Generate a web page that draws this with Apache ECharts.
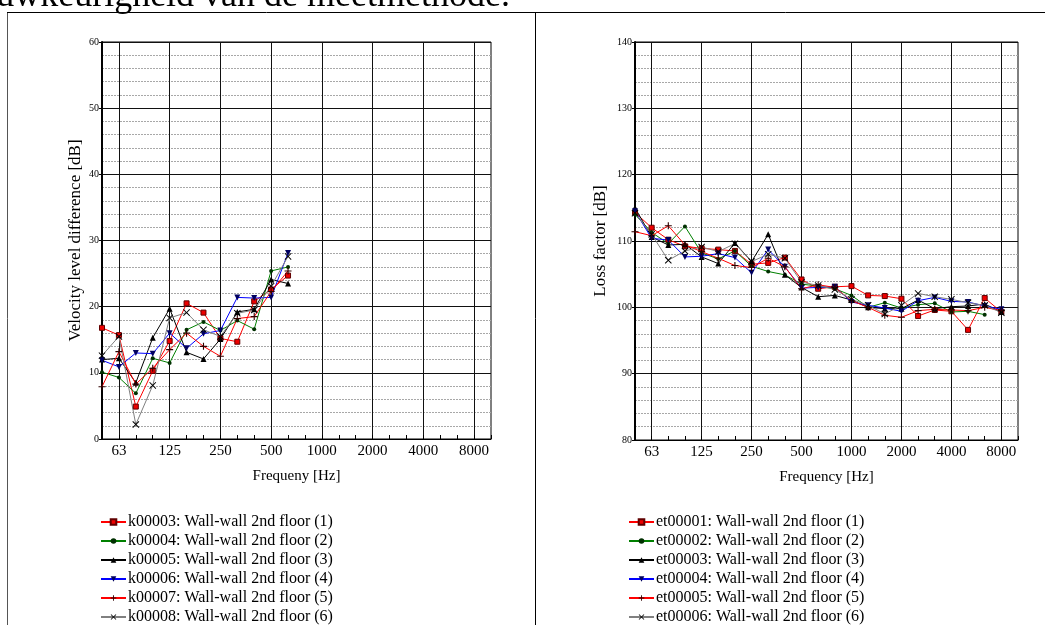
<!DOCTYPE html>
<html>
<head>
<meta charset="utf-8">
<script src="https://cdn.jsdelivr.net/npm/echarts@6/dist/echarts.min.js"></script>
<style>
html,body{margin:0;padding:0;background:#fff;}
#c{width:1045px;height:625px;}
</style>
</head>
<body>
<div id="c"></div>
<script>
// 1/3-octave band centre frequencies (Hz)
const bands = ['50','63','80','100','125','160','200','250','315','400','500','630','800','1000','1250','1600','2000','2500','3150','4000','5000','6300','8000','10000'];
const octaveLabels = ['63','125','250','500','1000','2000','4000','8000'];

// Left: velocity level difference [dB], 50..630 Hz
const leftNames = ['k00003: Wall-wall 2nd floor (1)','k00004: Wall-wall 2nd floor (2)','k00005: Wall-wall 2nd floor (3)','k00006: Wall-wall 2nd floor (4)','k00007: Wall-wall 2nd floor (5)','k00008: Wall-wall 2nd floor (6)'];
const k00003 = [16.8, 15.7, 4.9, 10.3, 14.8, 20.5, 19.1, 15.2, 14.7, 20.8, 22.6, 24.7];
const k00004 = [10.1, 9.3, 6.9, 12.2, 11.5, 16.5, 17.7, 16.4, 17.9, 16.6, 25.4, 26.0];
const k00005 = [12.0, 12.2, 8.5, 15.3, 19.7, 13.1, 12.1, 15.1, 19.2, 19.6, 24.1, 23.5];
const k00006 = [11.9, 10.9, 13.0, 12.9, 16.0, 13.7, 15.9, 16.4, 21.4, 21.3, 21.4, 28.1];
const k00007 = [7.9, 13.2, 8.3, 10.7, 13.5, 16.0, 14.0, 12.5, 18.2, 18.5, 22.3, 25.4];
const k00008 = [12.6, 15.5, 2.2, 8.1, 18.3, 19.1, 16.5, 15.5, 19.0, 19.5, 23.1, 27.6];

// Right: loss factor [dB], 50..8000 Hz
const rightNames = ['et00001: Wall-wall 2nd floor (1)','et00002: Wall-wall 2nd floor (2)','et00003: Wall-wall 2nd floor (3)','et00004: Wall-wall 2nd floor (4)','et00005: Wall-wall 2nd floor (5)','et00006: Wall-wall 2nd floor (6)'];
const et00001 = [114.3, 112.0, 110.2, 109.2, 108.9, 108.7, 108.5, 106.5, 106.7, 107.5, 104.2, 102.8, 103.1, 103.2, 101.8, 101.7, 101.3, 98.7, 99.6, 99.4, 96.6, 101.4, 99.3];
const et00002 = [114.0, 111.3, 109.6, 112.2, 108.2, 107.3, 108.5, 106.2, 105.4, 104.9, 103.5, 103.2, 102.8, 101.8, 100.0, 100.7, 99.9, 100.4, 100.6, 99.3, 99.4, 98.9];
const et00003 = [115.0, 110.6, 109.4, 109.5, 107.6, 106.6, 109.7, 106.9, 111.0, 104.9, 103.0, 101.6, 101.8, 101.1, 100.0, 99.8, 99.8, 101.1, 99.8, 100.1, 100.2, 100.5, 99.3];
const et00004 = [114.5, 110.4, 110.15, 107.6, 107.7, 108.1, 107.5, 105.2, 108.7, 106.1, 102.9, 103.0, 103.1, 100.8, 100.3, 99.9, 99.4, 101.0, 101.5, 100.9, 100.8, 100.2, 99.7];
const et00005 = [111.4, 110.8, 112.3, 109.4, 108.4, 107.4, 106.3, 106.0, 107.4, 106.1, 102.8, 103.4, 103.0, 101.0, 100.0, 98.8, 98.5, 99.5, 99.7, 99.6, 99.5, 100.0, 99.5];
const et00006 = [114.2, 111.0, 107.1, 108.5, 109.1, 108.4, 109.6, 106.9, 108.0, 107.4, 103.8, 103.3, 102.7, 101.2, 100.3, 99.0, 100.3, 102.1, 101.6, 101.2, 100.7, 100.3, 99.2];

const FONT = "'Liberation Serif','Times New Roman',serif";
const SQ = 'rect';
const DOT = 'circle';
const UP = 'triangle';
const DOWN = 'path://M0,0L10,0L5,10Z';
const PLUS = 'path://M4.2,0H5.8V4.2H10V5.8H5.8V10H4.2V5.8H0V4.2H4.2Z';
const CROSS = 'path://M1,0L5,4L9,0L10,1L6,5L10,9L9,10L5,6L1,10L0,9L4,5L0,1Z';

const styles = [
  {line:'#ff0000', sym:SQ, size:5, fill:'#ee0000', border:'#600000', bw:1},
  {line:'#008000', sym:DOT, size:4, fill:'#003000', border:'#003000', bw:0},
  {line:'#000000', sym:UP, size:6, fill:'#000000', border:'#000000', bw:0},
  {line:'#0000ff', sym:DOWN, size:6, fill:'#000060', border:'#000060', bw:0},
  {line:'#ff0000', sym:PLUS, size:7, fill:'#300000', border:'#300000', bw:0},
  {line:'#808080', sym:CROSS, size:7, fill:'#000000', border:'#000000', bw:0}
];

function mkSeries(name, data, idx, st) {
  return {
    name: name, type: 'line', xAxisIndex: idx, yAxisIndex: idx, data: data,
    symbol: st.sym, symbolSize: st.size, showSymbol: true,
    lineStyle: {color: st.line, width: 1},
    itemStyle: {color: st.fill, borderColor: st.border, borderWidth: st.bw},
    emphasis: {disabled: true}, animation: false, z: 5
  };
}

const isOct = (i) => octaveLabels.indexOf(bands[i]) >= 0;

function mkX(idx, name) {
  return {
    type: 'category', gridIndex: idx, data: bands, boundaryGap: false,
    axisLine: {show: true, lineStyle: {color: '#000', width: 1}},
    axisTick: {show: true, inside: true, length: 4, interval: 0, lineStyle: {color: '#000'}},
    axisLabel: {interval: (i) => isOct(i), fontSize: 15, fontFamily: FONT, color: '#000', margin: 5},
    splitLine: {show: true, interval: (i) => isOct(i), lineStyle: {color: '#111', width: 1}},
    name: name, nameLocation: 'middle', nameGap: 30,
    nameTextStyle: {fontSize: 15, fontFamily: FONT, color: '#000'}
  };
}
function mkY(idx, min, max, name, gap) {
  return {
    type: 'value', gridIndex: idx, min: min, max: max, interval: 10,
    axisLine: {show: true, lineStyle: {color: '#000', width: 2}},
    axisTick: {show: true, inside: false, length: 3, lineStyle: {color: '#000'}},
    axisLabel: {fontSize: 10, fontFamily: FONT, color: '#000', margin: 3},
    splitLine: {show: true, lineStyle: {color: '#111', width: 1}},
    minorTick: {show: false, splitNumber: 5},
    minorSplitLine: {show: true, lineStyle: {color: '#a8a8a8', width: 1, type: [2, 1]}},
    name: name, nameLocation: 'middle', nameGap: gap, nameRotate: 90,
    nameTextStyle: {fontSize: 17, fontFamily: FONT, color: '#000'}
  };
}

const leftData = [k00003, k00004, k00005, k00006, k00007, k00008];
const rightData = [et00001, et00002, et00003, et00004, et00005, et00006];
const series = [];
leftData.forEach((d, i) => series.push(mkSeries(leftNames[i], d, 0, styles[i])));
rightData.forEach((d, i) => series.push(mkSeries(rightNames[i], d, 1, styles[i])));

const legendCommon = {
  orient: 'vertical', itemWidth: 25, itemHeight: 7, itemGap: 3, height: 200,
  textStyle: {fontSize: 16, fontFamily: FONT, color: '#000', lineHeight: 16, padding: [0, 0, 0, -3]},
  selectedMode: false, padding: 0
};

const chart = echarts.init(document.getElementById('c'), null, {renderer: 'canvas'});
chart.setOption({
  backgroundColor: '#fff',
  animation: false,
  grid: [
    {left: 102, top: 42, width: 389, height: 397, show: true, borderColor: '#000', borderWidth: 1, backgroundColor: 'transparent'},
    {left: 635, top: 42, width: 383, height: 398, show: true, borderColor: '#000', borderWidth: 1, backgroundColor: 'transparent'}
  ],
  xAxis: [mkX(0, 'Frequeny [Hz]'), mkX(1, 'Frequency [Hz]')],
  yAxis: [mkY(0, 0, 60, 'Velocity level difference [dB]', 18), mkY(1, 80, 140, 'Loss factor [dB]', 26)],
  legend: [
    Object.assign({left: 100, top: 514, data: leftNames}, legendCommon),
    Object.assign({left: 628, top: 514, data: rightNames}, legendCommon)
  ],
  series: series,
  graphic: [
    {type: 'line', shape: {x1: 7.5, y1: 12, x2: 7.5, y2: 625}, style: {stroke: '#555', lineWidth: 1}},
    {type: 'line', shape: {x1: 7, y1: 12.5, x2: 1045, y2: 12.5}, style: {stroke: '#000', lineWidth: 1}},
    {type: 'line', shape: {x1: 535.5, y1: 12, x2: 535.5, y2: 625}, style: {stroke: '#000', lineWidth: 1}},
    {type: 'text', right: 535, top: -21, style: {text: 'nauwkeurigheid van de meetmethode.', font: "36px 'Liberation Serif', serif", fill: '#000'}}
  ]
});
</script>
</body>
</html>
